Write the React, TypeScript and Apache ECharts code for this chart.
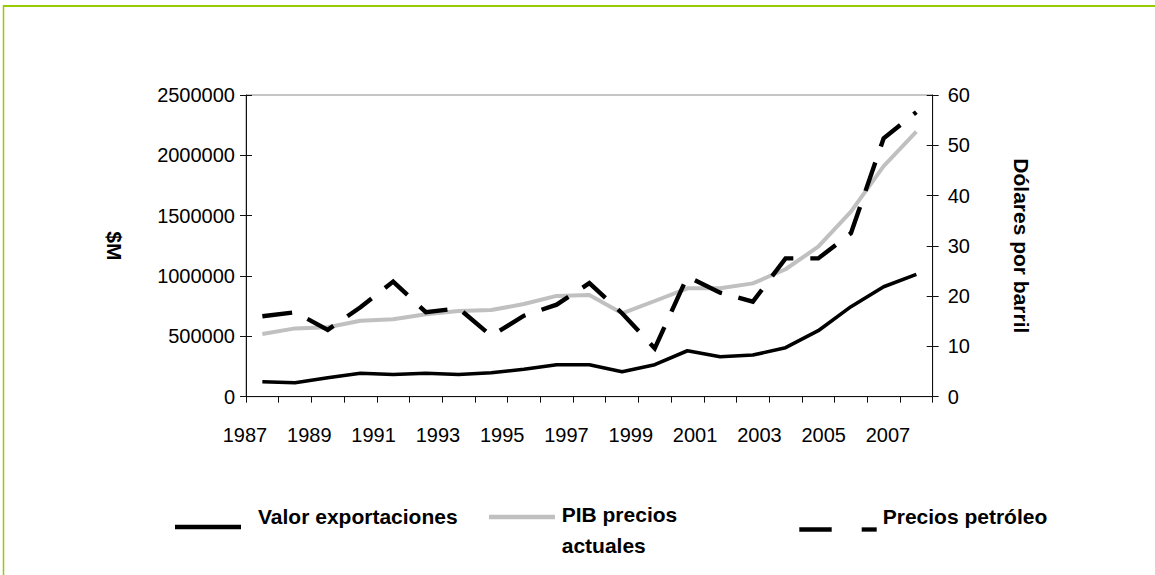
import React, { useEffect, useRef } from "react";
import * as echarts from "echarts";

const categories = [
  "1987", "1988", "1989", "1990", "1991", "1992", "1993", "1994", "1995", "1996", "1997",
  "1998", "1999", "2000", "2001", "2002", "2003", "2004", "2005", "2006", "2007",
];
const tickYears = [
  "1987", "1988", "1989", "1990", "1991", "1992", "1993", "1994", "1995", "1996", "1997",
  "1998", "1999", "2000", "2001", "2002", "2003", "2004", "2005", "2006", "2007", "2008",
];
const exportaciones = [
  124000, 116000, 157000, 194000, 184000, 194000, 184000, 199000, 227000, 265000, 265000,
  207000, 265000, 381000, 331000, 345000, 406000, 547000, 746000, 911000, 1014000,
];
const pib = [
  519000, 566000, 575000, 630000, 641000, 683000, 710000, 718000, 768000, 835000, 842000,
  691000, 793000, 898000, 898000, 939000, 1056000, 1243000, 1533000, 1911000, 2196000,
];
const petroleo = [
  16.0, 16.8, 13.3, 17.8, 22.9, 16.8, 17.6, 12.1, 16.1, 18.3, 22.6,
  16.6, 9.6, 23.9, 20.7, 18.9, 27.5, 27.5, 32.5, 51.4, 56.6,
];
const seriesNames = ["Valor exportaciones", "PIB precios actuales", "Precios petróleo"];

const FONT = 'Arial, "Liberation Sans", sans-serif';
const GREEN = "#99cc00";

export default function App() {
  const ref = useRef<HTMLDivElement>(null);
  useEffect(() => {
    if (!ref.current) return;
    const chart = echarts.init(ref.current, null, { renderer: "svg" });
    const gridMain = { left: 246, top: 95, width: 686.7, height: 301.7 };
    const axisLineStyle = { color: "#111", width: 1 };
    const plain = (v: number) => String(v);
    const option: any = {
      animation: false,
      backgroundColor: "#ffffff",
      textStyle: { fontFamily: FONT },
      grid: [
        { ...gridMain, show: true, borderColor: "#8c8c8c", borderWidth: 1, backgroundColor: "transparent" },
        { left: 245, top: 95, width: 675.15, height: 301.7, show: false },
      ],
      xAxis: [
        {
          type: "category",
          gridIndex: 0,
          data: categories,
          boundaryGap: true,
          axisLine: { lineStyle: axisLineStyle },
          axisTick: { show: true, length: 6, interval: 0, lineStyle: axisLineStyle },
          axisLabel: { show: false },
          splitLine: { show: false },
        },
        {
          type: "category",
          gridIndex: 1,
          data: tickYears,
          boundaryGap: false,
          axisLine: { show: false },
          axisTick: { show: false },
          axisLabel: { show: true, interval: 1, margin: 28, fontSize: 20, color: "#000", fontFamily: FONT },
          splitLine: { show: false },
        },
      ],
      yAxis: [
        {
          type: "value",
          gridIndex: 0,
          position: "left",
          min: 0,
          max: 2500000,
          interval: 500000,
          name: "$M",
          nameLocation: "middle",
          nameRotate: -90,
          nameGap: 121,
          nameTextStyle: { fontSize: 21, fontWeight: "bold", color: "#000", fontFamily: FONT },
          axisLine: { show: true, lineStyle: axisLineStyle },
          axisTick: { show: true, length: 6, lineStyle: axisLineStyle },
          axisLabel: { margin: 11, fontSize: 20, color: "#000", fontFamily: FONT, formatter: plain },
          splitLine: { show: false },
        },
        {
          type: "value",
          gridIndex: 0,
          position: "right",
          min: 0,
          max: 60,
          interval: 10,
          name: "Dólares por barril",
          nameLocation: "middle",
          nameRotate: -90,
          nameGap: 78,
          nameTextStyle: { fontSize: 21, fontWeight: "bold", color: "#000", fontFamily: FONT },
          axisLine: { show: true, lineStyle: axisLineStyle },
          axisTick: { show: true, length: 6, lineStyle: axisLineStyle },
          axisLabel: { margin: 15, fontSize: 20, color: "#000", fontFamily: FONT, formatter: plain },
          splitLine: { show: false },
        },
        {
          type: "value",
          gridIndex: 0,
          position: "left",
          min: 0,
          max: 2500000,
          interval: 500000,
          axisLine: { show: false },
          axisTick: { show: true, inside: true, length: 6, lineStyle: axisLineStyle },
          axisLabel: { show: false },
          splitLine: { show: false },
        },
        {
          type: "value",
          gridIndex: 0,
          position: "right",
          min: 0,
          max: 60,
          interval: 10,
          axisLine: { show: false },
          axisTick: { show: true, inside: true, length: 6, lineStyle: axisLineStyle },
          axisLabel: { show: false },
          splitLine: { show: false },
        },
        { type: "value", gridIndex: 1, show: false },
      ],
      series: [
        {
          name: seriesNames[0],
          type: "line",
          xAxisIndex: 0,
          yAxisIndex: 0,
          data: exportaciones,
          symbol: "none",
          lineStyle: { color: "#000", width: 3.6, cap: "butt", join: "round" },
          itemStyle: { color: "#000" },
        },
        {
          name: seriesNames[1],
          type: "line",
          xAxisIndex: 0,
          yAxisIndex: 0,
          data: pib,
          symbol: "none",
          lineStyle: { color: "#c0c0c0", width: 4, cap: "butt", join: "round" },
          itemStyle: { color: "#c0c0c0" },
        },
        {
          name: seriesNames[2],
          type: "line",
          xAxisIndex: 0,
          yAxisIndex: 1,
          data: petroleo,
          symbol: "none",
          lineStyle: { color: "#000", width: 4.4, type: [30, 17], cap: "butt", join: "miter" },
          itemStyle: { color: "#000" },
        },
      ],
      graphic: [
        { type: "line", shape: { x1: 3, y1: 6, x2: 1160, y2: 6 }, style: { stroke: GREEN, lineWidth: 2 } },
        { type: "line", shape: { x1: 3.5, y1: 5, x2: 3.5, y2: 580 }, style: { stroke: GREEN, lineWidth: 1.5 } },
        // legend
        { type: "line", shape: { x1: 175, y1: 527, x2: 241, y2: 527 }, style: { stroke: "#000", lineWidth: 4.3 } },
        {
          type: "text", x: 258, y: 516,
          style: { text: seriesNames[0], fontSize: 21, fontWeight: "bold", fontFamily: FONT, fill: "#000", align: "left", verticalAlign: "middle" },
        },
        { type: "line", shape: { x1: 489, y1: 517, x2: 555, y2: 517 }, style: { stroke: "#c0c0c0", lineWidth: 4.3 } },
        {
          type: "text", x: 561.7, y: 514,
          style: { text: "PIB precios", fontSize: 21, fontWeight: "bold", fontFamily: FONT, fill: "#000", align: "left", verticalAlign: "middle" },
        },
        {
          type: "text", x: 561.7, y: 545,
          style: { text: "actuales", fontSize: 21, fontWeight: "bold", fontFamily: FONT, fill: "#000", align: "left", verticalAlign: "middle" },
        },
        { type: "line", shape: { x1: 799.3, y1: 529.5, x2: 831.7, y2: 529.5 }, style: { stroke: "#000", lineWidth: 4.3 } },
        { type: "line", shape: { x1: 861.7, y1: 529.5, x2: 876.7, y2: 529.5 }, style: { stroke: "#000", lineWidth: 4.3 } },
        {
          type: "text", x: 882.7, y: 516.7,
          style: { text: seriesNames[2], fontSize: 21, fontWeight: "bold", fontFamily: FONT, fill: "#000", align: "left", verticalAlign: "middle" },
        },
      ],
    };
    chart.setOption(option);
    return () => chart.dispose();
  }, []);
  return (
    <div
      ref={ref}
      style={{ position: "fixed", left: 0, top: 0, width: 1155, height: 575, background: "#fff" }}
    />
  );
}
